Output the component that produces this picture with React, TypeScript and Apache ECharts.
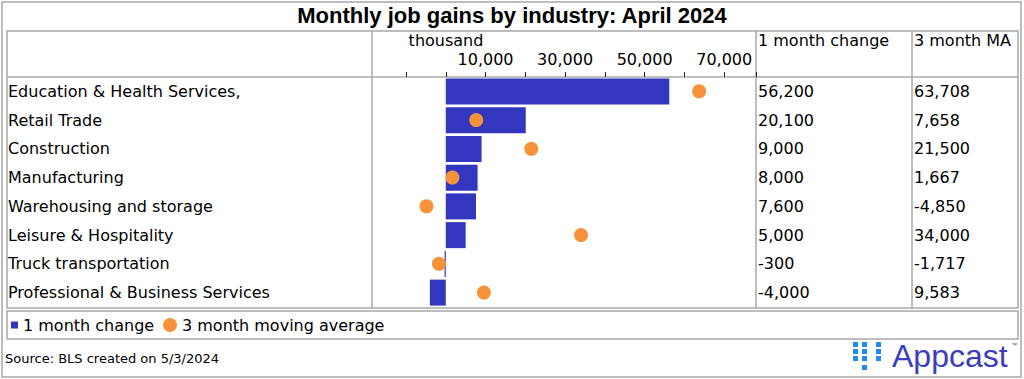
import React, { useEffect, useRef } from "react";
import * as echarts from "echarts";

const categories = [
  "Education & Health Services,",
  "Retail Trade",
  "Construction",
  "Manufacturing",
  "Warehousing and storage",
  "Leisure & Hospitality",
  "Truck transportation",
  "Professional & Business Services",
];
const oneMonthChange = [56200, 20100, 9000, 8000, 7600, 5000, -300, -4000];
const threeMonthMA = [63708, 7658, 21500, 1667, -4850, 34000, -1717, 9583];
const xTickLabels = [10000, 30000, 50000, 70000];

const titleText = "Monthly job gains by industry: April 2024";
const sourceText = "Source: BLS created on 5/3/2024";

const FONT = "DejaVu Sans";
const FS = 16;
const BLUE = "#3336BE";
const ORANGE = "#F7923A";
const LINE = "#a8a8a8";

const fmt = (v: number) => v.toLocaleString("en-US");

export default function App() {
  const ref = useRef<HTMLDivElement>(null);
  useEffect(() => {
    if (!ref.current) return;
    const chart = echarts.init(ref.current, null, { renderer: "svg" });
    const lineStyle = { stroke: LINE, lineWidth: 1.5 };
    const logoSquares: number[][] = [
      [853, 342], [853, 349], [853, 356],
      [862, 342], [862, 349], [862, 356], [862, 365],
      [876, 342], [876, 349], [876, 356],
    ];
    chart.setOption({
      animation: false,
      title: {
        text: titleText,
        left: "center",
        top: 4,
        padding: 0,
        textStyle: { fontFamily: "Liberation Sans", fontWeight: "bold", fontSize: 22, color: "#000" },
      },
      grid: { left: 406, top: 77, width: 350, height: 230, containLabel: false },
      xAxis: {
        type: "value",
        position: "top",
        min: -10000,
        max: 78000,
        interval: 10000,
        axisLine: { show: false },
        axisTick: { show: true, length: 5, lineStyle: { color: "#222", width: 1 } },
        splitLine: { show: false },
        axisLabel: {
          margin: 10,
          fontFamily: FONT,
          fontSize: FS,
          color: "#000",
          formatter: (v: number) => (xTickLabels.includes(v) ? fmt(v) : ""),
        },
      },
      yAxis: [
        {
          type: "category",
          inverse: true,
          data: categories,
          axisLine: { show: false },
          axisTick: { show: false },
          axisLabel: { align: "left", margin: 398, fontFamily: FONT, fontSize: FS, color: "#000" },
        },
        {
          type: "category",
          inverse: true,
          position: "right",
          data: categories,
          axisLine: { show: false },
          axisTick: { show: false },
          axisLabel: {
            align: "left",
            margin: 2,
            fontFamily: FONT,
            fontSize: FS,
            color: "#000",
            formatter: (_v: string, i: number) => fmt(oneMonthChange[i]),
          },
        },
        {
          type: "category",
          inverse: true,
          position: "right",
          offset: 156,
          data: categories,
          axisLine: { show: false },
          axisTick: { show: false },
          axisLabel: {
            align: "left",
            margin: 2,
            fontFamily: FONT,
            fontSize: FS,
            color: "#000",
            formatter: (_v: string, i: number) => fmt(threeMonthMA[i]),
          },
        },
      ],
      legend: [
        {
          data: ["1 month change"],
          left: 11,
          top: 317,
          padding: 0,
          icon: "rect",
          itemWidth: 7,
          itemHeight: 7,
          textStyle: { fontFamily: FONT, fontSize: FS, color: "#000" },
        },
        {
          data: ["3 month moving average"],
          left: 163,
          top: 317,
          padding: 0,
          icon: "circle",
          itemWidth: 14,
          itemHeight: 14,
          textStyle: { fontFamily: FONT, fontSize: FS, color: "#000" },
        },
      ],
      series: [
        {
          name: "1 month change",
          type: "bar",
          data: oneMonthChange,
          barWidth: 26,
          itemStyle: { color: BLUE },
        },
        {
          name: "3 month moving average",
          type: "scatter",
          data: threeMonthMA,
          symbolSize: 14,
          itemStyle: { color: ORANGE, opacity: 1 },
          z: 3,
        },
      ],
      graphic: [
        { type: "rect", shape: { x: 2, y: 2, width: 1019, height: 375 }, style: { fill: "none", ...lineStyle }, silent: true },
        { type: "rect", shape: { x: 7, y: 31, width: 1011, height: 277 }, style: { fill: "none", ...lineStyle }, silent: true },
        { type: "line", shape: { x1: 7, y1: 77, x2: 1018, y2: 77 }, style: lineStyle, silent: true },
        { type: "line", shape: { x1: 372, y1: 31, x2: 372, y2: 308 }, style: lineStyle, silent: true },
        { type: "line", shape: { x1: 756, y1: 31, x2: 756, y2: 308 }, style: lineStyle, silent: true },
        { type: "line", shape: { x1: 912, y1: 31, x2: 912, y2: 308 }, style: lineStyle, silent: true },
        { type: "rect", shape: { x: 7, y: 311, width: 1011, height: 28 }, style: { fill: "none", ...lineStyle }, silent: true },
        {
          type: "text",
          x: 446,
          y: 40,
          style: { text: "thousand", fontFamily: FONT, fontSize: FS, fill: "#000", align: "center", verticalAlign: "middle" },
        },
        {
          type: "text",
          x: 758,
          y: 40,
          style: { text: "1 month change", fontFamily: FONT, fontSize: FS, fill: "#000", align: "left", verticalAlign: "middle" },
        },
        {
          type: "text",
          x: 914,
          y: 40,
          style: { text: "3 month MA", fontFamily: FONT, fontSize: FS, fill: "#000", align: "left", verticalAlign: "middle" },
        },
        {
          type: "text",
          x: 5,
          y: 358,
          style: { text: sourceText, fontFamily: FONT, fontSize: 13, fill: "#000", align: "left", verticalAlign: "middle" },
        },
        ...logoSquares.map(([x, y]) => ({
          type: "rect",
          shape: { x, y, width: 5, height: 5 },
          style: { fill: "#1E8CF0" },
          silent: true,
        })),
        {
          type: "text",
          x: 892,
          y: 356,
          style: { text: "Appcast", fontFamily: "Liberation Sans", fontSize: 32, fill: "#3A3DBE", align: "left", verticalAlign: "middle" },
        },
        {
          type: "text",
          x: 1011,
          y: 345,
          style: { text: "™", fontFamily: "Liberation Sans", fontSize: 6, fill: "#3A3DBE", align: "left", verticalAlign: "middle" },
        },
      ],
    });
    return () => chart.dispose();
  }, []);
  return (
    <div
      ref={ref}
      style={{ position: "fixed", left: 0, top: 0, width: 1024, height: 379, background: "#fff" }}
    />
  );
}
